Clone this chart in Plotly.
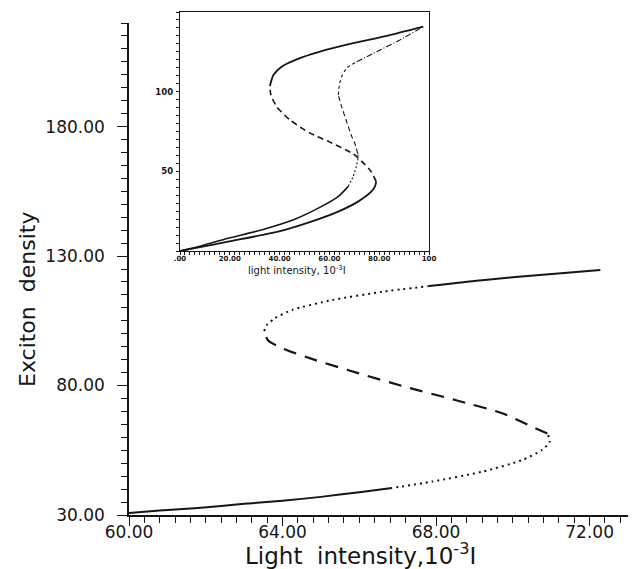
import plotly.graph_objects as go

W, H = 634, 569

# ---- main panel: exciton density vs light intensity (S-shaped bistability curve)
lower_solid_x = [60.0, 60.8, 61.8, 63.0, 64.0, 65.0, 66.0, 66.8]
lower_solid_y = [30.8, 31.7, 32.7, 34.3, 35.5, 37.0, 38.8, 40.3]

lower_dot_x = [66.8, 67.9, 69.2, 70.24, 70.76, 70.96, 70.9]
lower_dot_y = [40.3, 42.9, 46.7, 51.2, 55.1, 58.3, 61.5]

middle_dash_x = [70.9, 70.5, 69.72, 68.5, 67.2, 65.99, 64.86, 63.99, 63.62, 63.52]
middle_dash_y = [61.5, 64.1, 69.3, 74.4, 79.5, 84.7, 89.8, 94.4, 97.5, 101.0]

upper_dot_x = [63.52, 63.6, 63.8, 64.25, 65.29, 66.6, 67.81]
upper_dot_y = [101.0, 103.5, 106.0, 109.2, 113.0, 116.2, 118.4]

upper_solid_x = [67.81, 69.2, 70.94, 72.28]
upper_solid_y = [118.4, 120.7, 123.0, 124.6]

# major tick spacing of the main axes (labels printed with two decimals)
main_x_tick0, main_x_dtick = 60, 4
main_y_tick0, main_y_dtick = 30, 50

# ---- inset: two response curves over the full intensity range
a_lower_x = [0, 8, 19.3, 39.4, 52.7, 63.5, 71.5, 76.8, 78.3, 78.8]
a_lower_y = [0, 2.4, 5.9, 12.1, 18.4, 24.7, 31.0, 37.2, 40.5, 43.5]
a_middle_x = [78.8, 76.8, 73.5, 69.5, 60.0, 52.2, 44.2, 38.8, 36.5, 36.1]
a_middle_y = [43.5, 49.8, 55.5, 61.0, 68.5, 74.0, 82.2, 90.6, 97.9, 103.6]
a_upper_x = [36.1, 37.5, 40.8, 46.9, 56.2, 69.6, 83.0, 97.7]
a_upper_y = [103.6, 110.5, 115.7, 120.3, 125.1, 130.4, 135.0, 140.8]

b_lower_x = [0, 8, 19.3, 32.7, 46.1, 56.7, 63.5, 67.5]
b_lower_y = [0, 3.0, 8.0, 13.2, 19.9, 27.8, 34.1, 40.4]
b_turn_x = [67.5, 69.5, 70.8, 71.5, 71.4]
b_turn_y = [40.4, 46.6, 52.9, 58.2, 61.0]
b_middle_x = [71.4, 70.2, 69.0, 66.7, 64.7, 63.6]
b_middle_y = [61.0, 67.6, 71.8, 82.2, 91.7, 97.9]
b_bend_x = [63.6, 64.0, 64.9, 66.9, 71.0]
b_bend_y = [97.9, 104.2, 109.4, 114.7, 118.8]
b_upper_x = [71.0, 79.0, 88.4, 97.7]
b_upper_y = [118.8, 125.1, 132.5, 140.8]

inset_xtick_vals = [0, 20, 40, 60, 80, 100]
inset_xtick_text = [".00", "20.00", "40.00", "60.00", "80.00", "100"]
inset_ytick_vals = [50, 100]
inset_ytick_text = ["50", "100"]

INK = "#151515"
FONT = "DejaVu Sans"


def px_x(p):
    return p / W


def px_y(p):
    return (H - p) / H


fig = go.Figure()


def seg(x, y, dash, width, axes="main"):
    kw = {} if axes == "main" else dict(xaxis="x2", yaxis="y2")
    fig.add_trace(go.Scatter(x=x, y=y, mode="lines", showlegend=False,
                             hoverinfo="skip",
                             line=dict(color=INK, width=width, dash=dash,
                                       shape="spline", smoothing=0.6),
                             **kw))


# main curve
seg(lower_solid_x, lower_solid_y, "solid", 2.0)
seg(lower_dot_x, lower_dot_y, "2px,4px", 2.0)
seg(middle_dash_x, middle_dash_y, "13px,9px", 2.2)
seg(upper_dot_x, upper_dot_y, "2px,4px", 2.0)
seg(upper_solid_x, upper_solid_y, "solid", 2.0)

# inset curves
seg(a_lower_x, a_lower_y, "solid", 1.8, "inset")
seg(a_middle_x, a_middle_y, "6px,4px", 1.6, "inset")
seg(a_upper_x, a_upper_y, "solid", 1.8, "inset")
seg(b_lower_x, b_lower_y, "solid", 1.5, "inset")
seg(b_turn_x, b_turn_y, "2px,2px", 1.1, "inset")
seg(b_middle_x, b_middle_y, "5px,3px", 1.1, "inset")
seg(b_bend_x, b_bend_y, "3px,3px", 1.1, "inset")
seg(b_upper_x, b_upper_y, "6px,2px,1px,2px", 1.1, "inset")

main_axis_common = dict(showline=True, linecolor=INK, linewidth=1.6,
                        showgrid=False, zeroline=False, ticks="outside",
                        tickcolor=INK, tickwidth=1.4, automargin=False,
                        tickmode="linear", tickformat=".2f",
                        tickfont=dict(family=FONT, size=17, color=INK))

inset_axis_common = dict(showline=True, mirror=True, linecolor=INK,
                         linewidth=1.4, showgrid=False, zeroline=False,
                         ticks="outside", ticklen=3, tickwidth=1,
                         tickcolor=INK, automargin=False, tickmode="array")

fig.update_layout(
    width=W, height=H,
    margin=dict(l=0, r=0, t=0, b=0, autoexpand=False),
    paper_bgcolor="white", plot_bgcolor="rgba(0,0,0,0)",
    xaxis=dict(domain=[px_x(129), px_x(628)], range=[60, 73],
               tick0=main_x_tick0, dtick=main_x_dtick,
               ticklen=9, ticklabelstandoff=-8,
               minor=dict(tickmode="linear", dtick=0.4, tick0=60,
                          ticks="outside", ticklen=6,
                          tickwidth=1.3, tickcolor=INK),
               anchor="y", **main_axis_common),
    yaxis=dict(domain=[px_y(515), px_y(23)], range=[30, 220],
               tick0=main_y_tick0, dtick=main_y_dtick,
               ticklen=10, ticklabelstandoff=9,
               minor=dict(tickmode="linear", dtick=5, tick0=30,
                          ticks="outside", ticklen=6,
                          tickwidth=1.3, tickcolor=INK),
               anchor="x", **main_axis_common),
    xaxis2=dict(domain=[px_x(180), px_x(429)], range=[0, 100],
                anchor="y2", ticklabelstandoff=-3,
                tickvals=inset_xtick_vals, ticktext=inset_xtick_text,
                minor=dict(tickmode="linear", dtick=2, tick0=0,
                           ticks="outside", ticklen=3,
                           tickwidth=0.9, tickcolor=INK),
                tickfont=dict(family=FONT, size=7, color=INK, weight="bold"),
                **inset_axis_common),
    yaxis2=dict(domain=[px_y(251), px_y(12)], range=[0, 150],
                anchor="x2", ticklabelstandoff=1,
                tickvals=inset_ytick_vals, ticktext=inset_ytick_text,
                minor=dict(tickmode="linear", dtick=5, tick0=0,
                           ticks="outside", ticklen=3,
                           tickwidth=0.9, tickcolor=INK),
                tickfont=dict(family=FONT, size=8.5, color=INK, weight="bold"),
                **inset_axis_common),
)

# axis titles
fig.add_annotation(text="Light\u00a0 intensity,10<sup>-3</sup>I",
                   x=px_x(360), y=px_y(554), xref="paper", yref="paper",
                   xanchor="center", yanchor="middle", showarrow=False,
                   font=dict(family=FONT, size=23, color=INK))
fig.add_annotation(text="Exciton\u00a0 density",
                   x=px_x(27), y=px_y(300), xref="paper", yref="paper",
                   xanchor="center", yanchor="middle", showarrow=False,
                   textangle=-90,
                   font=dict(family=FONT, size=22, color=INK))
fig.add_annotation(text="light intensity, 10<sup>-3</sup>I",
                   x=px_x(297), y=px_y(270), xref="paper", yref="paper",
                   xanchor="center", yanchor="middle", showarrow=False,
                   font=dict(family=FONT, size=10, color=INK))

fig.write_html("out.html")
